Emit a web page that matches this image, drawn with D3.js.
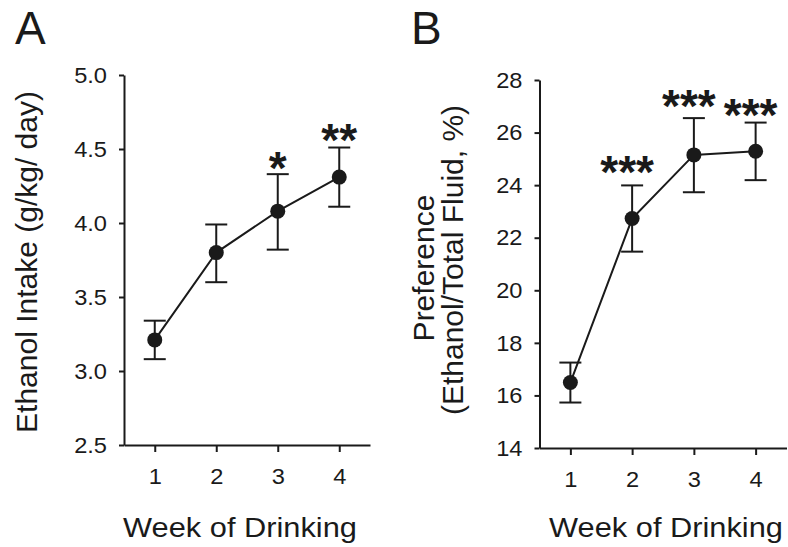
<!DOCTYPE html>
<html>
<head>
<meta charset="utf-8">
<script src="https://cdn.jsdelivr.net/npm/d3@7"></script>
<style>
  body { margin: 0; background: #fff; }
  svg { display: block; font-family: "Liberation Sans", Arial, Helvetica, sans-serif; }
</style>
</head>
<body>
<div id="chart"></div>
<script>
// values
const weeks = [1, 2, 3, 4]

const intakeMean = [3.21, 3.80, 4.08, 4.31]
const intakeLow = [3.08, 3.60, 3.82, 4.11]
const intakeHigh = [3.34, 3.99, 4.33, 4.51]
const intakeStars = ["", "", "*", "**"]
const intakeStarAt = [null, null, 4.42, 4.61]
const intakeTicks = [2.5, 3.0, 3.5, 4.0, 4.5, 5.0]

const prefMean = [16.49, 22.73, 25.15, 25.29]
const prefLow = [15.73, 21.47, 23.73, 24.19]
const prefHigh = [17.25, 23.99, 26.55, 26.38]
const prefStars = ["", "***", "***", "***"]
const prefStarAt = [null, 24.75, 27.27, 26.95]
const prefTicks = [14, 16, 18, 20, 22, 24, 26, 28]

const width = 788, height = 547
const ink = "#1a1a1a"
const starSize = 46

const svg = d3.select("#chart").append("svg")
  .attr("width", width)
  .attr("height", height)
  .attr("viewBox", [0, 0, width, height])

function stretch(sel, k) {
  sel.each(function() {
    const w = this.getComputedTextLength()
    d3.select(this).attr("textLength", w * k).attr("lengthAdjust", "spacingAndGlyphs")
  })
}

function panel(cfg) {
  const g = svg.append("g")

  const rows = weeks.map((w, i) => ({
    week: w, mean: cfg.mean[i], low: cfg.low[i], high: cfg.high[i],
    star: cfg.stars[i], starAt: cfg.starAt[i]
  }))

  const x = d3.scaleLinear().domain([0.5, 4.5]).range(cfg.xRange)
  const y = d3.scaleLinear().domain(d3.extent(cfg.ticks)).range(cfg.yRange)

  g.append("g")
    .attr("transform", `translate(${cfg.xRange[0]},0)`)
    .call(d3.axisLeft(y).tickValues(cfg.ticks).tickFormat(cfg.fmt)
      .tickSize(5).tickSizeOuter(0).tickPadding(12))

  g.append("g")
    .attr("transform", `translate(0,${cfg.yRange[0]})`)
    .call(d3.axisBottom(x).tickValues(weeks).tickFormat(d3.format("d"))
      .tickSize(7).tickSizeOuter(0).tickPadding(16))

  g.selectAll(".domain, .tick line").attr("stroke", ink).attr("stroke-width", 2)
  g.selectAll(".tick text").attr("fill", ink).attr("font-size", 22.5).attr("font-family", null)
  stretch(g.selectAll(".tick text"), 1.05)

  const line = d3.line().x(d => x(d.week)).y(d => y(d.mean))
  g.append("path")
    .datum(rows)
    .attr("fill", "none")
    .attr("stroke", ink)
    .attr("stroke-width", 2)
    .attr("d", line)

  const err = g.append("g").attr("stroke", ink).attr("stroke-width", 2)
  err.selectAll(".stem").data(rows).join("line")
    .attr("x1", d => x(d.week)).attr("x2", d => x(d.week))
    .attr("y1", d => y(d.low)).attr("y2", d => y(d.high))
  err.selectAll(".cap").data(rows.flatMap(d => [[d.week, d.low], [d.week, d.high]])).join("line")
    .attr("x1", d => x(d[0]) - 11).attr("x2", d => x(d[0]) + 11)
    .attr("y1", d => y(d[1])).attr("y2", d => y(d[1]))

  g.append("g").selectAll("circle").data(rows).join("circle")
    .attr("cx", d => x(d.week))
    .attr("cy", d => y(d.mean))
    .attr("r", 7.5)
    .attr("fill", ink)

  g.append("g").selectAll("text").data(rows.filter(d => d.star)).join("text")
    .attr("x", d => x(d.week) + cfg.starDx)
    .attr("y", d => y(d.starAt) + 0.5 * starSize)
    .attr("text-anchor", "middle")
    .attr("font-size", starSize)
    .attr("font-weight", "bold")
    .attr("fill", ink)
    .text(d => d.star)

  // panel letter
  g.append("text")
    .attr("x", cfg.letterX).attr("y", 44)
    .attr("font-size", 46)
    .attr("fill", ink)
    .text(cfg.letter)

  const xt = g.append("text")
    .attr("x", cfg.xTitleX).attr("y", 537)
    .attr("text-anchor", "middle")
    .attr("font-size", 27)
    .attr("fill", ink)
    .text("Week of Drinking")
  stretch(xt, 1.14)

  cfg.yTitle.forEach((t, i) => {
    g.append("text")
      .attr("transform", `translate(${cfg.yTitleX[i]},${cfg.yTitleY[i]}) rotate(-90)`)
      .attr("text-anchor", "middle")
      .attr("font-size", 30)
      .attr("fill", ink)
      .text(t)
  })
}

panel({
  letter: "A", letterX: 15,
  mean: intakeMean, low: intakeLow, high: intakeHigh,
  stars: intakeStars, starAt: intakeStarAt, starDx: 0,
  ticks: intakeTicks, fmt: d3.format(".1f"),
  xRange: [124, 370], yRange: [445, 75],
  xTitleX: 240,
  yTitle: ["Ethanol Intake (g/kg/ day)"], yTitleX: [37], yTitleY: [262]
})

panel({
  letter: "B", letterX: 411,
  mean: prefMean, low: prefLow, high: prefHigh,
  stars: prefStars, starAt: prefStarAt, starDx: -5,
  ticks: prefTicks, fmt: d3.format("d"),
  xRange: [539.5, 786.5], yRange: [448, 80],
  xTitleX: 666,
  yTitle: ["Preference", "(Ethanol/Total Fluid, %)"], yTitleX: [434, 463], yTitleY: [268, 260]
})
</script>
</body>
</html>
